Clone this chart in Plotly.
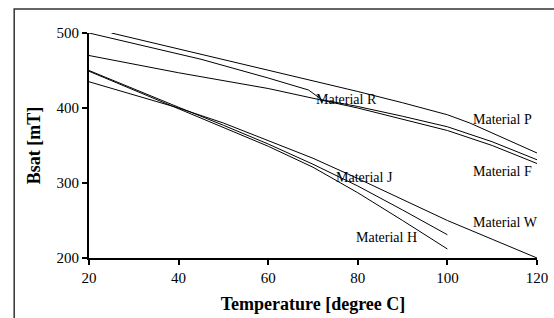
import plotly.graph_objects as go

# ---- data ----
p_temp = [25, 45, 60, 70, 80, 90, 100, 105, 110, 120]
p_bsat = [500, 472, 451, 437, 422, 407, 391, 380, 367, 340]

r_temp = [20, 45, 60, 69, 72, 80, 90, 100, 110, 120]
r_bsat = [500, 465, 440, 424, 411, 402, 389, 375, 355, 331]

f_temp = [20, 40, 60, 80, 100, 110, 120]
f_bsat = [470, 447, 426, 400, 370, 350, 326]

j_temp = [20, 30, 40, 50, 60, 70, 80, 90, 100]
j_bsat = [450, 425, 401, 377, 352, 325, 296, 264, 231]

h_temp = [20, 30, 40, 50, 60, 70, 80, 90, 100]
h_bsat = [449, 424, 400, 375, 349, 321, 287, 250, 212]

w_temp = [20, 30, 40, 50, 60, 70, 80, 90, 100, 110, 120]
w_bsat = [435, 418, 400, 380, 357, 333, 306, 278, 250, 225, 200]

series = [("Material P", p_temp, p_bsat), ("Material R", r_temp, r_bsat),
          ("Material F", f_temp, f_bsat), ("Material J", j_temp, j_bsat),
          ("Material H", h_temp, h_bsat), ("Material W", w_temp, w_bsat)]

label_text = ["Material R", "Material P", "Material F", "Material J", "Material W", "Material H"]
label_x = [77.5, 112.3, 112.3, 81.5, 113, 86.5]
label_y = [411, 385, 316, 307, 247, 227]

x_ticks = [20, 40, 60, 80, 100, 120]
y_ticks = [200, 300, 400, 500]

SERIF = "Liberation Serif, Times New Roman, serif"

fig = go.Figure()
for name, t, b in series:
    fig.add_trace(go.Scatter(x=t, y=b, mode="lines", name=name,
                             line=dict(color="black", width=1), showlegend=False,
                             hoverinfo="skip"))

for txt, lx, ly in zip(label_text, label_x, label_y):
    fig.add_annotation(x=lx, y=ly, xref="x", yref="y", text=txt, showarrow=False,
                       font=dict(family=SERIF, size=14, color="black"))

# outer frame (partially off-page like the reference)
fig.add_shape(type="rect", xref="paper", yref="paper",
              x0=-0.167, x1=1.06, y0=-0.32, y1=1.107,
              line=dict(color="#333333", width=1.5), fillcolor="rgba(0,0,0,0)")

fig.update_layout(
    width=554, height=318,
    margin=dict(l=89, r=17, t=33, b=60),
    paper_bgcolor="white", plot_bgcolor="white",
    font=dict(family=SERIF, size=15, color="black"),
)
fig.update_xaxes(range=[20, 120], tickvals=x_ticks, ticks="outside", ticklen=5,
                 tickwidth=1.5, tickcolor="black", showline=True, linecolor="black",
                 linewidth=2, showgrid=False, zeroline=False, automargin=False,
                 tickfont=dict(family=SERIF, size=15),
                 title=dict(text="<b>Temperature [degree C]</b>",
                            font=dict(family=SERIF, size=18), standoff=12))
fig.update_yaxes(range=[200, 500], tickvals=y_ticks, ticks="outside", ticklen=5,
                 tickwidth=1.5, tickcolor="black", showline=True, linecolor="black",
                 linewidth=2, showgrid=False, zeroline=False, automargin=False,
                 tickfont=dict(family=SERIF, size=15),
                 title=dict(text="<b>Bsat [mT]</b>",
                            font=dict(family=SERIF, size=18), standoff=11))

fig.write_html("out.html", config={"displayModeBar": False},
               post_script="document.body.style.margin='0';")
